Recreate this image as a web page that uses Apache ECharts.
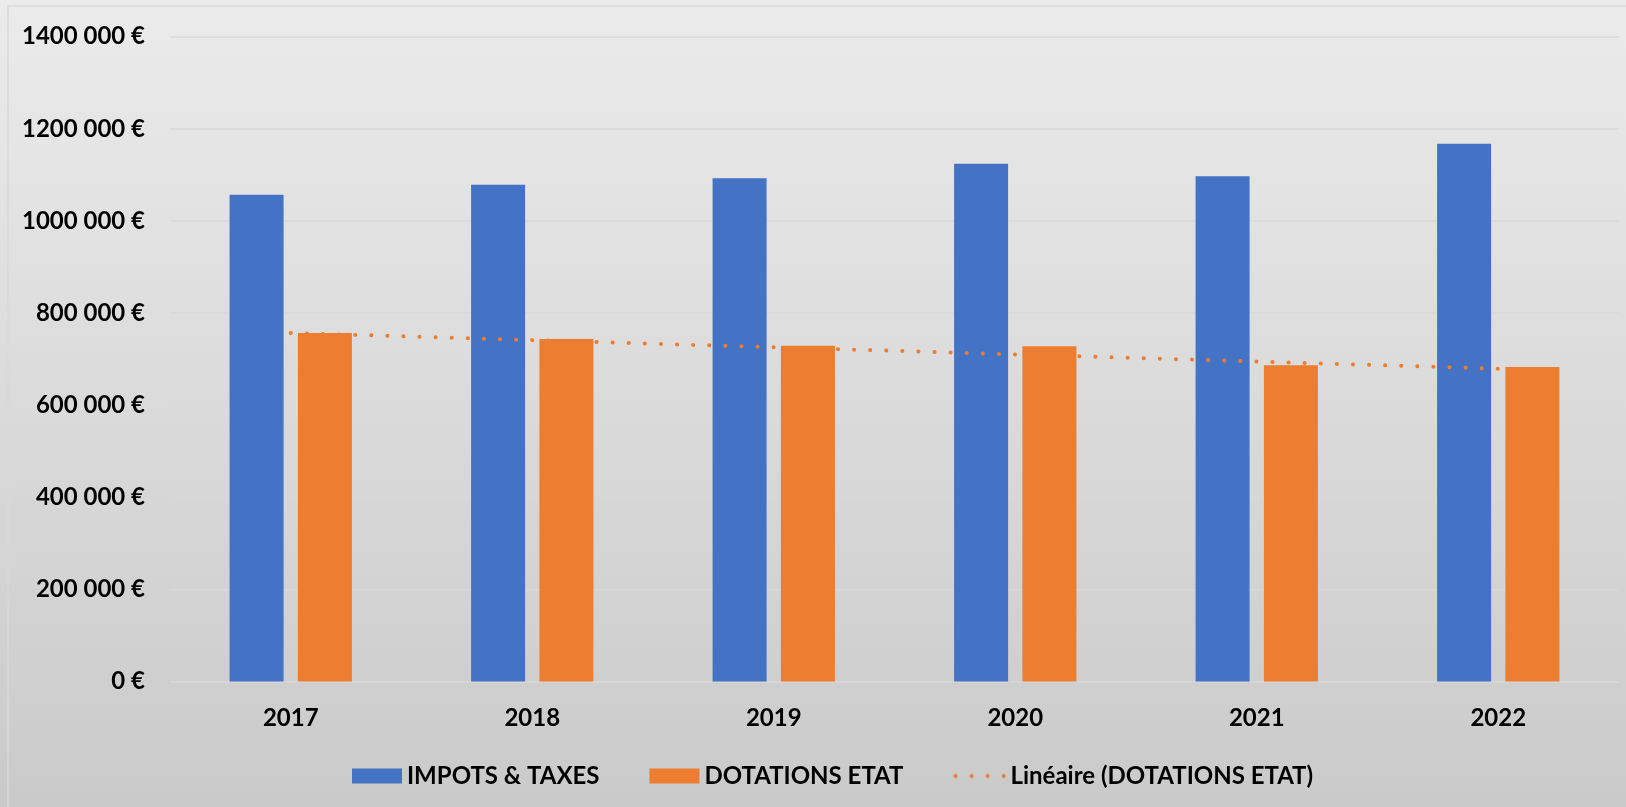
<!DOCTYPE html>
<html>
<head>
<meta charset="utf-8">
<style>
  html, body { margin: 0; padding: 0; width: 1626px; height: 807px; overflow: hidden; }
  #chart { width: 1626px; height: 807px; }
</style>
<script src="https://cdn.jsdelivr.net/npm/echarts@6/dist/echarts.min.js"></script>
</head>
<body>
<div id="chart"></div>
<script>
// ---- data ----
const categories = ['2017', '2018', '2019', '2020', '2021', '2022'];
const impotsTaxes = [1057000, 1078700, 1092600, 1124300, 1096900, 1167700];
const dotationsEtat = [756700, 743600, 729100, 727800, 686500, 682800];
const lineaireDotations = [756700, 741200, 725700, 710200, 694700, 679200];
const yTickValues = [0, 200000, 400000, 600000, 800000, 1000000, 1200000, 1400000];
const yTickLabels = ['0 €', '200 000 €', '400 000 €', '600 000 €', '800 000 €', '1000 000 €', '1200 000 €', '1400 000 €'];
const seriesNames = ['IMPOTS & TAXES', 'DOTATIONS ETAT', 'Linéaire (DOTATIONS ETAT)'];

const FONT = 'Lato, "Open Sans", "Noto Sans", sans-serif';
const BLUE = '#4472C4';
const ORANGE = '#ED7D31';
const TREND_DASH = [0.1, 16];

const chart = echarts.init(document.getElementById('chart'), null, { renderer: 'canvas' });

chart.setOption({
  animation: false,
  backgroundColor: {
    type: 'linear', x: 0, y: 0, x2: 0, y2: 1,
    colorStops: [{ offset: 0, color: '#ebebeb' }, { offset: 1, color: '#cacaca' }]
  },
  graphic: [{
    type: 'rect', silent: true, z: -1,
    shape: { x: 8, y: 6, width: 1640, height: 820 },
    style: { fill: 'none', stroke: '#d9d9d9', lineWidth: 1.5 }
  }],
  grid: { left: 170, right: 7, top: 36.7, bottom: 125.5, containLabel: false },
  legend: {
    left: 352, top: 764, padding: 0,
    itemWidth: 50, itemHeight: 15, itemGap: 50,
    textStyle: { fontFamily: FONT, fontWeight: 'bold', fontSize: 24, color: '#000' },
    data: [
      { name: seriesNames[0], icon: 'rect' },
      { name: seriesNames[1], icon: 'rect' },
      { name: seriesNames[2], itemStyle: { opacity: 0 }, lineStyle: { width: 4, type: TREND_DASH, cap: 'round', color: ORANGE } }
    ]
  },
  xAxis: {
    type: 'category',
    data: categories,
    boundaryGap: true,
    axisLine: { show: false },
    axisTick: { show: false },
    axisLabel: { margin: 25, fontFamily: FONT, fontWeight: 'bold', fontSize: 24, color: '#000' },
    splitLine: { show: false }
  },
  yAxis: {
    type: 'value',
    min: 0, max: 1400000, interval: 200000,
    axisLine: { show: false },
    axisTick: { show: false },
    axisLabel: {
      margin: 25, fontFamily: FONT, fontWeight: 'bold', fontSize: 24, color: '#000',
      formatter: function (v) {
        const i = yTickValues.indexOf(v);
        return i >= 0 ? yTickLabels[i] : '';
      }
    },
    splitLine: { show: true, lineStyle: { color: '#d9d9d9', width: 1.5 } }
  },
  series: [
    {
      name: seriesNames[0], type: 'bar', data: impotsTaxes,
      barWidth: 54, barGap: '26.5%',
      itemStyle: { color: BLUE }
    },
    {
      name: seriesNames[1], type: 'bar', data: dotationsEtat,
      barWidth: 54, barGap: '26.5%',
      itemStyle: { color: ORANGE }
    },
    {
      name: seriesNames[2], type: 'line', data: lineaireDotations,
      symbol: 'none', showSymbol: false, z: 5,
      itemStyle: { color: ORANGE },
      lineStyle: { color: ORANGE, width: 4, type: TREND_DASH, cap: 'round' }
    }
  ]
});
</script>
</body>
</html>
